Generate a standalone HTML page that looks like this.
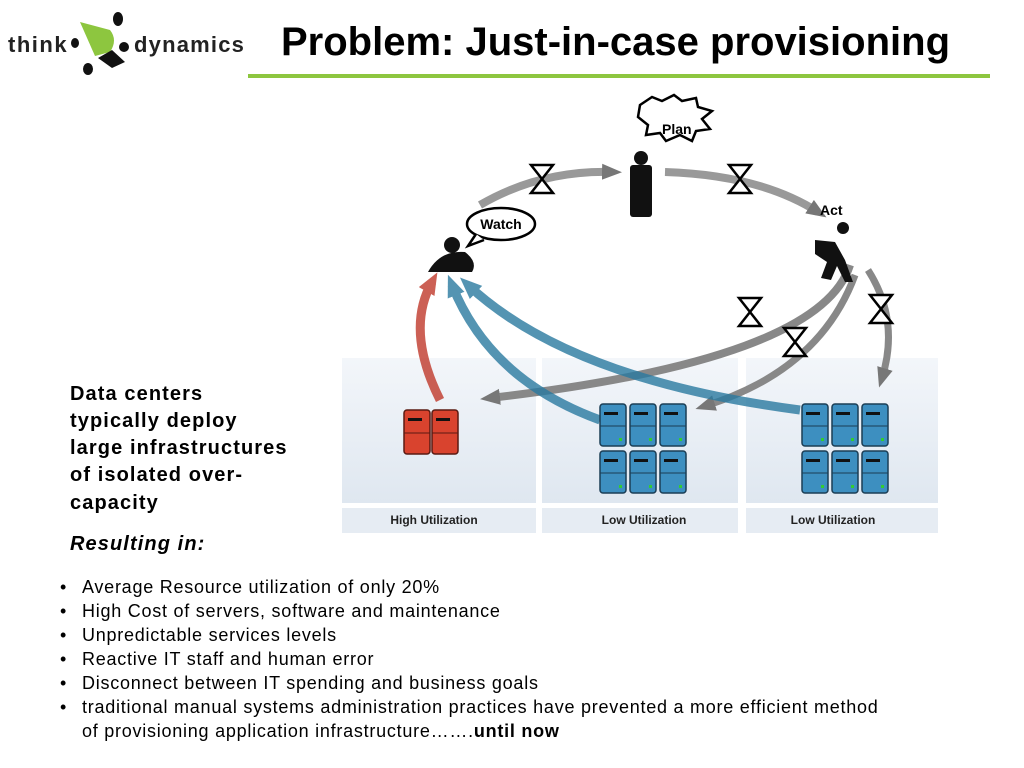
<!DOCTYPE html>
<html><head><meta charset="utf-8"><style>
body{margin:0;width:1024px;height:768px;background:#fff;position:relative;overflow:hidden;font-family:"Liberation Sans",sans-serif}
.t{position:absolute;white-space:nowrap}
.side{left:70px;font-size:20px;font-weight:bold;color:#000;letter-spacing:1.1px}
.b{left:82px;font-size:18px;color:#000;letter-spacing:0.75px}
.dot{position:absolute;left:60px;font-size:18px}
</style></head><body>
<svg width="1024" height="768" style="position:absolute;left:0;top:0">
<defs>
<linearGradient id="pg" x1="0" y1="0" x2="0" y2="1"><stop offset="0" stop-color="#f3f6fa"/><stop offset="1" stop-color="#dfe7f0"/></linearGradient>
<marker id="ag" markerUnits="userSpaceOnUse" markerWidth="20" markerHeight="20" refX="10" refY="10" orient="auto"><path d="M0,2L20,10L0,18z" fill="#777"/></marker>
<marker id="ab" markerUnits="userSpaceOnUse" markerWidth="22" markerHeight="22" refX="11" refY="11" orient="auto"><path d="M0,2L22,11L0,20z" fill="#2a7aa0"/></marker>
<marker id="ar" markerUnits="userSpaceOnUse" markerWidth="22" markerHeight="22" refX="11" refY="11" orient="auto"><path d="M0,2L22,11L0,20z" fill="#c0392b"/></marker>
<g id="bs"><rect x="0" y="0" width="26" height="42" rx="3" fill="#3d8fc0" stroke="#1b3e55" stroke-width="1.5"/><rect x="4" y="8" width="14" height="3" fill="#111"/><line x1="0" y1="22" x2="26" y2="22" stroke="#1b3e55"/><rect x="19" y="34" width="3" height="3" fill="#3c3"/></g>
<g id="rs"><rect x="0" y="0" width="26" height="44" rx="3" fill="#d9432e" stroke="#5a1a12" stroke-width="1.5"/><rect x="4" y="8" width="14" height="3" fill="#111"/><line x1="0" y1="23" x2="26" y2="23" stroke="#5a1a12"/></g>
</defs>
<rect x="248" y="74" width="742" height="4" fill="#8dc63f"/>
<rect x="342" y="358" width="194" height="145" fill="url(#pg)"/>
<rect x="542" y="358" width="196" height="145" fill="url(#pg)"/>
<rect x="746" y="358" width="192" height="145" fill="url(#pg)"/>
<rect x="342" y="508" width="194" height="25" fill="#e6ecf3"/>
<rect x="542" y="508" width="196" height="25" fill="#e6ecf3"/>
<rect x="746" y="508" width="192" height="25" fill="#e6ecf3"/>
<text x="434" y="524" font-size="12" font-weight="bold" text-anchor="middle" fill="#222">High Utilization</text>
<text x="644" y="524" font-size="12" font-weight="bold" text-anchor="middle" fill="#222">Low Utilization</text>
<text x="833" y="524" font-size="12" font-weight="bold" text-anchor="middle" fill="#222">Low Utilization</text>
<path d="M480,205 Q540,170 612,172" stroke="#999" stroke-width="8" fill="none" marker-end="url(#ag)"/>
<path d="M665,172 Q760,175 818,212" stroke="#999" stroke-width="8" fill="none" marker-end="url(#ag)"/>
<path d="M850,265 Q820,360 490,398" stroke="#888" stroke-width="8" fill="none" marker-end="url(#ag)"/>
<path d="M855,275 Q820,370 705,406" stroke="#888" stroke-width="7" fill="none" marker-end="url(#ag)"/>
<path d="M868,270 Q900,320 882,378" stroke="#888" stroke-width="7" fill="none" marker-end="url(#ag)"/>
<path d="M600,420 Q490,380 452,285" stroke="#2a7aa0" stroke-width="9" fill="none" opacity="0.8" marker-end="url(#ab)"/>
<path d="M800,410 Q570,380 468,285" stroke="#2a7aa0" stroke-width="9" fill="none" opacity="0.8" marker-end="url(#ab)"/>
<path d="M440,400 Q405,330 432,282" stroke="#c0392b" stroke-width="9" fill="none" opacity="0.8" marker-end="url(#ar)"/>
<g fill="#fff" stroke="#000" stroke-width="2.5">
<path d="M531,165 h22 l-11,14 l11,14 h-22 l11,-14z"/>
<path d="M729,165 h22 l-11,14 l11,14 h-22 l11,-14z"/>
<path d="M739,298 h22 l-11,14 l11,14 h-22 l11,-14z"/>
<path d="M784,328 h22 l-11,14 l11,14 h-22 l11,-14z"/>
<path d="M870,295 h22 l-11,14 l11,14 h-22 l11,-14z"/>
</g>
<g fill="#111">
<circle cx="641" cy="158" r="7"/><rect x="630" y="165" width="22" height="52" rx="3"/>
<circle cx="452" cy="245" r="8"/><path d="M428,272 Q440,250 465,252 Q478,262 472,272z"/>
<circle cx="843" cy="228" r="6"/><path d="M815,240 l20,2 l10,18 l8,22 l-8,0 l-8,-16 l-6,14 l-10,-2 l6,-16 l-12,-8z"/>
</g>
<path d="M640,105 l12,-8 l10,4 l12,-6 l8,6 l14,-3 l2,9 l14,4 l-10,8 l8,10 l-14,2 l-4,10 l-12,-6 l-14,6 l-6,-8 l-14,2 l2,-10 l-10,-8z" fill="#fff" stroke="#000" stroke-width="2.5"/>
<text x="662" y="134" font-size="14" font-weight="bold">Plan</text>
<ellipse cx="501" cy="224" rx="34" ry="16" fill="#fff" stroke="#000" stroke-width="2.5"/>
<path d="M476,234 l-8,12 l16,-6" fill="#fff" stroke="#000" stroke-width="2.5"/>
<text x="501" y="229" font-size="14" font-weight="bold" text-anchor="middle">Watch</text>
<text x="820" y="215" font-size="14" font-weight="bold">Act</text>
<use href="#rs" x="404" y="410"/><use href="#rs" x="432" y="410"/>
<use href="#bs" x="600" y="404"/><use href="#bs" x="630" y="404"/><use href="#bs" x="660" y="404"/>
<use href="#bs" x="600" y="451"/><use href="#bs" x="630" y="451"/><use href="#bs" x="660" y="451"/>
<use href="#bs" x="802" y="404"/><use href="#bs" x="832" y="404"/><use href="#bs" x="862" y="404"/>
<use href="#bs" x="802" y="451"/><use href="#bs" x="832" y="451"/><use href="#bs" x="862" y="451"/>
<text x="8" y="52" font-size="22" font-weight="bold" fill="#222" letter-spacing="1.5">think</text>
<text x="134" y="52" font-size="22" font-weight="bold" fill="#222" letter-spacing="1.2">dynamics</text>
<path d="M80,22 L110,30 Q118,40 110,52 L95,56z" fill="#8dc63f"/>
<path d="M98,58 L112,50 L125,62 L112,68z" fill="#111"/>
<ellipse cx="118" cy="19" rx="5" ry="7" fill="#111"/>
<ellipse cx="88" cy="69" rx="5" ry="6" fill="#111"/>
<ellipse cx="75" cy="43" rx="4" ry="5" fill="#111"/>
<ellipse cx="124" cy="47" rx="5" ry="5" fill="#111"/>
</svg>
<div class="t" style="left:281px;top:20px;font-size:40px;font-weight:bold;">Problem: Just-in-case provisioning</div>
<div class="t side" style="top:383px">Data centers</div>
<div class="t side" style="top:410px">typically deploy</div>
<div class="t side" style="top:437px">large infrastructures</div>
<div class="t side" style="top:464px">of isolated over-</div>
<div class="t side" style="top:492px">capacity</div>
<div class="t side" style="top:533px;font-style:italic">Resulting in:</div>
<div class="dot" style="top:577px">•</div><div class="t b" style="top:577px">Average Resource utilization of only 20%</div>
<div class="dot" style="top:601px">•</div><div class="t b" style="top:601px">High Cost of servers, software and maintenance</div>
<div class="dot" style="top:625px">•</div><div class="t b" style="top:625px">Unpredictable services levels</div>
<div class="dot" style="top:649px">•</div><div class="t b" style="top:649px">Reactive IT staff and human error</div>
<div class="dot" style="top:673px">•</div><div class="t b" style="top:673px">Disconnect between IT spending and business goals</div>
<div class="dot" style="top:697px">•</div><div class="t b" style="top:697px">traditional manual systems administration practices have prevented a more efficient method</div>
<div class="t b" style="top:721px">of provisioning application infrastructure…….<b>until now</b></div>
</body></html>
